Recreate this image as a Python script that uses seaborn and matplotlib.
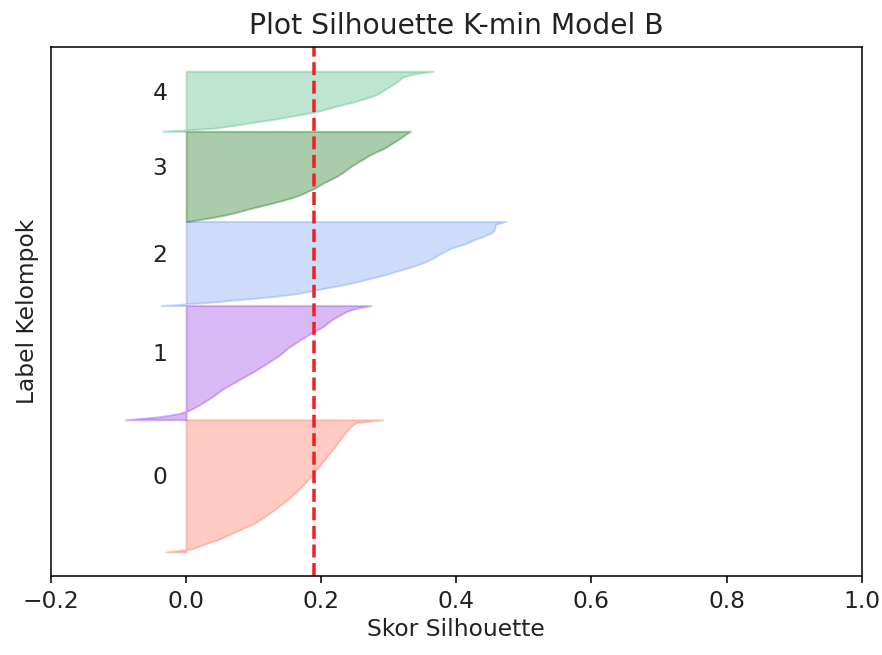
import numpy as np
import matplotlib
matplotlib.use("Agg")
import matplotlib.pyplot as plt
import seaborn as sns

# ---- data (silhouette values per cluster, sorted ascending) ----
cluster_labels = ["0", "1", "2", "3", "4"]
sil_c0 = [-0.03, 0.008, 0.02, 0.032, 0.046, 0.056, 0.066, 0.076, 0.085, 0.096,
          0.104, 0.111, 0.118, 0.124, 0.130, 0.136, 0.142, 0.148, 0.153, 0.158,
          0.163, 0.168, 0.172, 0.176, 0.180, 0.184, 0.187, 0.191, 0.195, 0.199,
          0.202, 0.206, 0.209, 0.213, 0.216, 0.220, 0.223, 0.226, 0.230, 0.233,
          0.237, 0.241, 0.245, 0.251, 0.291]
sil_c1 = [-0.09, -0.04, -0.012, 0.003, 0.012, 0.020, 0.027, 0.034, 0.041, 0.047,
          0.053, 0.060, 0.068, 0.076, 0.084, 0.092, 0.100, 0.107, 0.114, 0.121,
          0.128, 0.135, 0.141, 0.146, 0.151, 0.158, 0.165, 0.172, 0.179, 0.186,
          0.195, 0.203, 0.208, 0.214, 0.221, 0.229, 0.237, 0.250, 0.274]
sil_c2 = [-0.037, 0.03, 0.08, 0.13, 0.165, 0.188, 0.21, 0.235, 0.255, 0.272,
          0.29, 0.305, 0.32, 0.335, 0.348, 0.358, 0.367, 0.374, 0.383, 0.391,
          0.405, 0.418, 0.427, 0.44, 0.45, 0.456, 0.457, 0.458, 0.473]
sil_c3 = [0.003, 0.03, 0.055, 0.074, 0.09, 0.108, 0.126, 0.143, 0.158, 0.170,
          0.180, 0.190, 0.197, 0.205, 0.214, 0.223, 0.230, 0.236, 0.242, 0.249,
          0.256, 0.264, 0.271, 0.280, 0.290, 0.298, 0.305, 0.312, 0.319, 0.325,
          0.332]
sil_c4 = [-0.035, 0.04, 0.072, 0.10, 0.13, 0.155, 0.181, 0.20, 0.217, 0.234,
          0.252, 0.266, 0.28, 0.288, 0.295, 0.302, 0.309, 0.315, 0.32, 0.335,
          0.366]
silhouette_avg = 0.19
x_ticks = [-0.2, 0.0, 0.2, 0.4, 0.6, 0.8, 1.0]
cluster_colors = ["tomato", "blueviolet", "cornflowerblue", "darkgreen", "mediumseagreen"]

clusters = [sil_c0, sil_c1, sil_c2, sil_c3, sil_c4]
palette = sns.color_palette(cluster_colors)

fig = plt.figure(figsize=(882 / 140, 655 / 140), dpi=140)
ax = fig.add_subplot(111)
fig.subplots_adjust(left=0.0578, right=0.977, top=0.928, bottom=0.1206)

y_lower = 0
for label, vals, col in zip(cluster_labels, clusters, palette):
    vals = np.sort(np.asarray(vals))
    n = len(vals)
    y = np.arange(y_lower, y_lower + n)
    ax.fill_betweenx(y, 0, vals, facecolor=col, edgecolor=col, alpha=0.33)
    ax.text(-0.05, y_lower + 0.5 * n, label, fontsize=12, color="#222222")
    y_lower += n - 1

ax.axvline(x=silhouette_avg, color="#ee2222", linestyle="--", linewidth=1.8)

ax.set_title("Plot Silhouette K-min Model B", fontsize=14.5, color="#222222", pad=7)
ax.set_xlabel("Skor Silhouette", fontsize=12, color="#222222", labelpad=3)
ax.set_ylabel("Label Kelompok", fontsize=12, color="#222222", labelpad=6)
ax.set_yticks([])
ax.set_xticks(x_ticks)
ax.tick_params(axis="x", labelsize=12, labelcolor="#222222")
ax.set_xlim(-0.2, 1.0)

fig.savefig("out.png", dpi=140)
